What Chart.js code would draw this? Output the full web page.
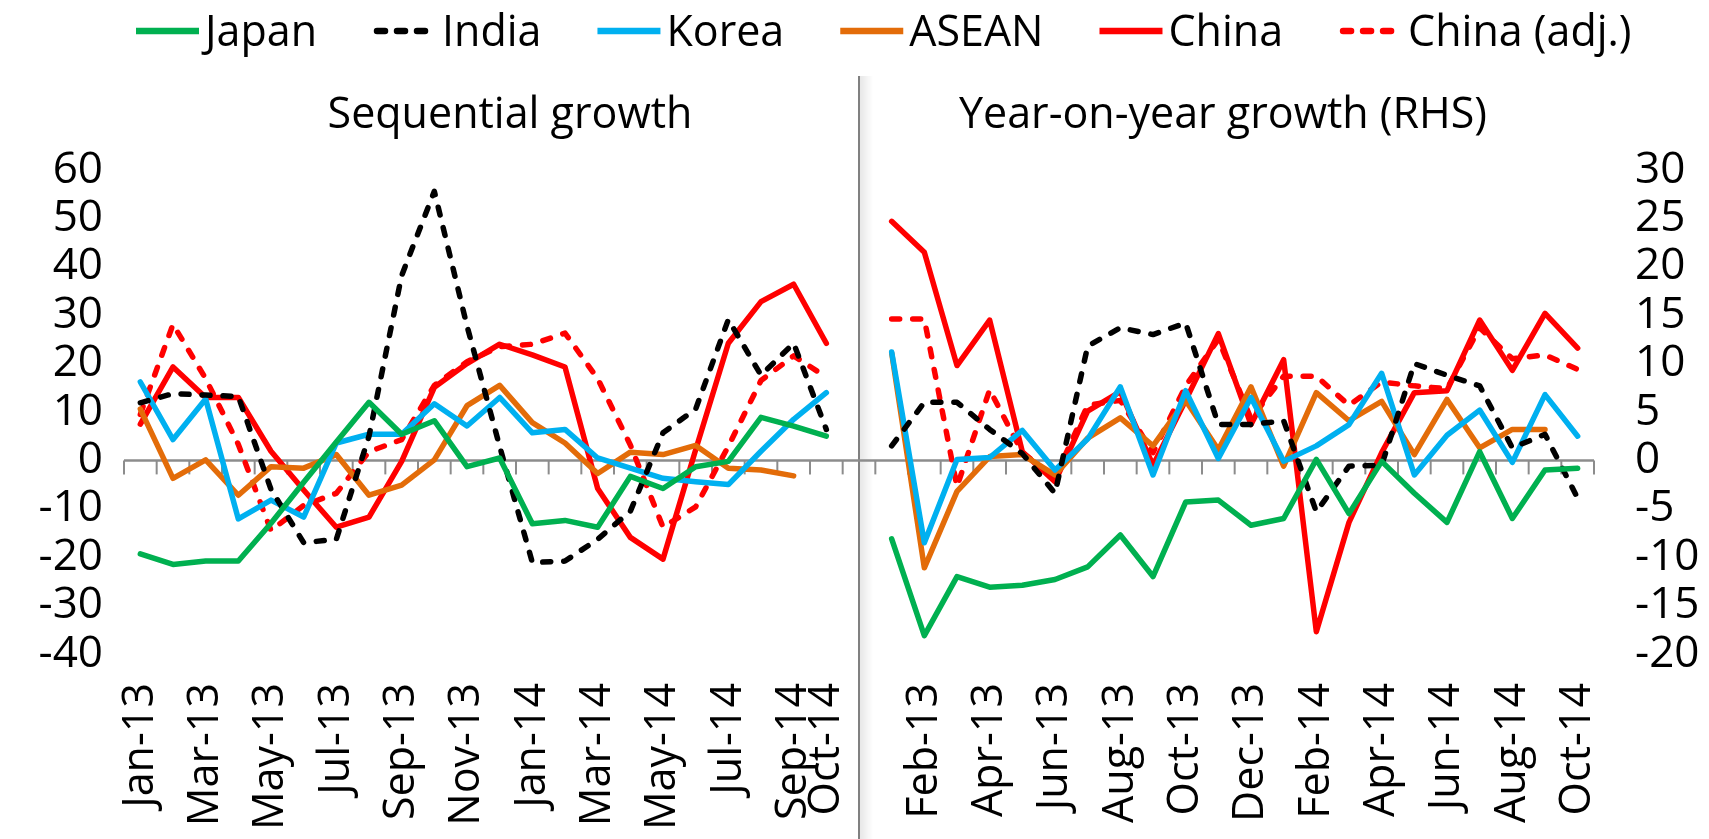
<!DOCTYPE html>
<html>
<head>
<meta charset="utf-8">
<script src="https://cdn.jsdelivr.net/npm/chart.js@4.4.0/dist/chart.umd.min.js"></script>
<style>
html,body{margin:0;padding:0;background:#fff;}
#wrap{width:1709px;height:839px;position:relative;}
</style>
</head>
<body>
<div id="wrap"><canvas id="c" width="1709" height="839"></canvas></div>
<script>
// ---------- categories ----------
const monthsLeft  = ['Jan-13','Feb-13','Mar-13','Apr-13','May-13','Jun-13','Jul-13','Aug-13','Sep-13','Oct-13','Nov-13','Dec-13',
                     'Jan-14','Feb-14','Mar-14','Apr-14','May-14','Jun-14','Jul-14','Aug-14','Sep-14','Oct-14'];
const monthsRight = ['Jan-13','Feb-13','Mar-13','Apr-13','May-13','Jun-13','Jul-13','Aug-13','Sep-13','Oct-13','Nov-13','Dec-13',
                     'Jan-14','Feb-14','Mar-14','Apr-14','May-14','Jun-14','Jul-14','Aug-14','Sep-14','Oct-14'];
const gapCategory = [''];
// tick labels shown on the category axis (blank = not shown)
const tickLabels = ['Jan-13','','Mar-13','','May-13','','Jul-13','','Sep-13','','Nov-13','',
                    'Jan-14','','Mar-14','','May-14','','Jul-14','','Sep-14','Oct-14',
                    '',
                    '','Feb-13','','Apr-13','','Jun-13','','Aug-13','','Oct-13','','Dec-13',
                    '','Feb-14','','Apr-14','','Jun-14','','Aug-14','','Oct-14'];
const leftTicks  = [-40,-30,-20,-10,0,10,20,30,40,50,60];
const rightTicks = [-20,-15,-10,-5,0,5,10,15,20,25,30];

// ---------- Sequential growth (left axis) ----------
const japanSeq   = [-19.3,-21.5,-20.8,-20.8,-13.0,-4.5,3.8,12.0,5.4,8.2,-1.3,0.5,-13.1,-12.4,-13.8,-3.3,-5.8,-1.3,-0.2,8.9,7.1,5.0];
const indiaSeq   = [11.9,13.8,13.5,13.2,-6.0,-17.0,-16.3,5.0,38.2,55.6,27.8,2.9,-21.1,-20.8,-16.3,-10.5,5.7,10.6,29.1,17.6,24.2,6.4];
const koreaSeq   = [16.2,4.3,12.7,-12.1,-8.2,-11.7,3.6,5.4,5.4,11.7,7.1,13.0,5.7,6.4,0.5,-1.6,-3.7,-4.4,-5.0,1.9,8.5,14.0];
const aseanSeq   = [10.6,-3.7,0.1,-7.2,-1.3,-1.6,1.2,-7.2,-5.1,0.1,11.3,15.5,7.8,3.6,-2.7,1.7,1.2,3.1,-1.6,-2.0,-3.2,null];
const chinaSeq   = [7.5,19.3,13.0,13.0,1.9,-6.1,-13.8,-11.7,-0.2,15.1,20.0,24.0,21.8,19.3,-5.8,-15.9,-20.4,2.2,24.2,32.8,36.4,24.2];
const chinaAdjSeq= [9.5,28.1,16.9,3.3,-14.5,-9.3,-6.8,1.8,4.3,15.5,20.4,23.5,24.0,26.3,16.9,3.2,-13.8,-9.6,2.9,16.5,21.6,17.2];

// ---------- Year-on-year growth (right axis) ----------
const japanYoY   = [-8.1,-18.1,-12.0,-13.1,-12.9,-12.3,-11.0,-7.7,-12.0,-4.3,-4.1,-6.7,-6.0,0.1,-5.5,-0.1,-3.4,-6.4,0.9,-6.0,-1.0,-0.8];
const indiaYoY   = [1.5,6.0,6.0,3.2,0.7,-3.4,11.8,13.7,13.0,14.2,3.7,3.7,4.1,-5.3,-0.6,-0.5,10.0,8.8,7.7,1.3,2.7,-3.9];
const koreaYoY   = [11.2,-8.5,0.1,0.3,3.1,-1.0,2.2,7.6,-1.5,7.2,0.2,6.5,-0.1,1.5,3.7,9.0,-1.5,2.6,5.2,-0.2,6.8,2.5];
const aseanYoY   = [11.1,-11.1,-3.2,0.4,0.6,-1.5,2.3,4.4,1.5,6.2,1.1,7.6,-0.6,7.0,4.1,6.1,0.6,6.3,1.3,3.2,3.2,null];
const chinaYoY   = [24.7,21.5,9.8,14.5,0.9,-2.2,5.1,7.1,-0.5,6.2,13.1,3.7,10.4,-17.7,-6.4,0.8,7.0,7.2,14.5,9.3,15.2,11.6];
const chinaAdjYoY= [14.6,14.6,-2.7,7.3,0.8,-1.8,5.7,6.2,0.8,7.7,12.5,4.3,8.7,8.7,5.7,8.1,7.7,7.4,13.7,10.5,10.9,9.4];

const seriesNames = ['Japan','India','Korea','ASEAN','China','China (adj.)'];
const seqData = [japanSeq, indiaSeq, koreaSeq, aseanSeq, chinaSeq, chinaAdjSeq];
const yoyData = [japanYoY, indiaYoY, koreaYoY, aseanYoY, chinaYoY, chinaAdjYoY];

// ---------- styles ----------
const FONT = '"Open Sans", "Noto Sans", sans-serif';
const styles = [
  {color:'#00B050', dash:[]},
  {color:'#000000', dash:[8,13]},
  {color:'#00B0F0', dash:[]},
  {color:'#E36C09', dash:[]},
  {color:'#FF0000', dash:[]},
  {color:'#FF0000', dash:[8,13]}
];

const categories = monthsLeft.concat(gapCategory, monthsRight);
const nLeftPad = gapCategory.length + monthsRight.length;
const nRightPad = monthsLeft.length + gapCategory.length;
const nulls = n => Array(n).fill(null);

const datasets = [];
seriesNames.forEach((name, k) => {
  const st = styles[k];
  const common = {
    borderColor: st.color, backgroundColor: st.color, borderWidth: 5.5,
    borderDash: st.dash, borderCapStyle: 'round', borderJoinStyle: 'round',
    pointRadius: 0, pointHoverRadius: 0, tension: 0, spanGaps: false, fill: false
  };
  datasets.push(Object.assign({label: name, data: seqData[k].concat(nulls(nLeftPad)), yAxisID: 'y'}, common));
  datasets.push(Object.assign({label: name + ' YoY', data: nulls(nRightPad).concat(yoyData[k]), yAxisID: 'y2'}, common));
});

const decorPlugin = {
  id: 'decor',
  beforeDatasetsDraw(chart) {
    const ctx = chart.ctx, xs = chart.scales.x, ys = chart.scales.y, ca = chart.chartArea;
    const y0 = ys.getPixelForValue(0);
    const w = (ca.right - ca.left) / categories.length;
    ctx.save();
    // divider between panels
    const xd = xs.getPixelForValue(monthsLeft.length);
    const g = ctx.createLinearGradient(xd, 0, xd + 14, 0);
    g.addColorStop(0, 'rgba(0,0,0,0.10)');
    g.addColorStop(1, 'rgba(0,0,0,0)');
    ctx.fillStyle = g;
    ctx.fillRect(xd, 76, 14, 839 - 76);
    ctx.strokeStyle = '#808080'; ctx.lineWidth = 2;
    ctx.beginPath(); ctx.moveTo(xd, 76); ctx.lineTo(xd, 839); ctx.stroke();
    // zero axis with tick marks
    ctx.strokeStyle = '#8c8c8c'; ctx.lineWidth = 2.5;
    ctx.beginPath(); ctx.moveTo(ca.left, y0); ctx.lineTo(ca.right, y0); ctx.stroke();
    ctx.lineWidth = 2;
    for (let i = 0; i <= categories.length; i++) {
      const x = ca.left + i * w;
      ctx.beginPath(); ctx.moveTo(x, y0); ctx.lineTo(x, y0 + 14); ctx.stroke();
    }
    ctx.restore();
  },
  afterDraw(chart) {
    const ctx = chart.ctx;
    ctx.save();
    // legend
    ctx.font = '43px ' + FONT;
    ctx.textBaseline = 'alphabetic';
    ctx.fillStyle = '#000';
    let x = 136; const yl = 31;
    seriesNames.forEach((name, k) => {
      const st = styles[k];
      ctx.strokeStyle = st.color; ctx.lineWidth = 6.5;
      ctx.setLineDash(st.dash.length ? [8, 12] : []);
      ctx.lineCap = st.dash.length ? 'round' : 'butt';
      ctx.beginPath();
      if (st.dash.length) { ctx.moveTo(x + 4, yl); ctx.lineTo(x + 60, yl); }
      else { ctx.moveTo(x, yl); ctx.lineTo(x + 63, yl); }
      ctx.stroke();
      ctx.setLineDash([]);
      ctx.fillText(name, x + 69, 46);
      x += 69 + ctx.measureText(name).width + 56;
    });
    // panel titles
    ctx.font = '43px ' + FONT;
    ctx.textAlign = 'center';
    ctx.fillText('Sequential growth', 510, 128);
    ctx.fillText('Year-on-year growth (RHS)', 1223, 128);
    ctx.restore();
  }
};

new Chart(document.getElementById('c'), {
  type: 'line',
  data: { labels: categories, datasets },
  options: {
    responsive: false, animation: false, devicePixelRatio: 1,
    layout: { padding: { top: 170, left: 0, right: 0, bottom: 0 } },
    plugins: { legend: { display: false }, tooltip: { enabled: false }, title: { display: false } },
    scales: {
      x: {
        type: 'category', offset: true,
        grid: { display: false, drawTicks: false }, border: { display: false },
        ticks: {
          autoSkip: false, maxRotation: 90, minRotation: 90, padding: 29,
          font: { family: FONT, size: 43 }, color: '#000',
          callback: (v, i) => tickLabels[i]
        },
        afterFit: s => { s.height = 185; }
      },
      y: {
        position: 'left', min: leftTicks[0], max: leftTicks[leftTicks.length - 1],
        afterBuildTicks: s => { s.ticks = leftTicks.map(v => ({value: v})); },
        grid: { display: false, drawTicks: false }, border: { display: false },
        ticks: { autoSkip: false, padding: 21, font: { family: FONT, size: 44 }, color: '#000' },
        afterFit: s => { s.width = 124; }
      },
      y2: {
        position: 'right', min: rightTicks[0], max: rightTicks[rightTicks.length - 1],
        afterBuildTicks: s => { s.ticks = rightTicks.map(v => ({value: v})); },
        grid: { display: false, drawTicks: false }, border: { display: false },
        ticks: { autoSkip: false, padding: 41, font: { family: FONT, size: 44 }, color: '#000' },
        afterFit: s => { s.width = 115; }
      }
    }
  },
  plugins: [decorPlugin]
});
</script>
</body>
</html>
